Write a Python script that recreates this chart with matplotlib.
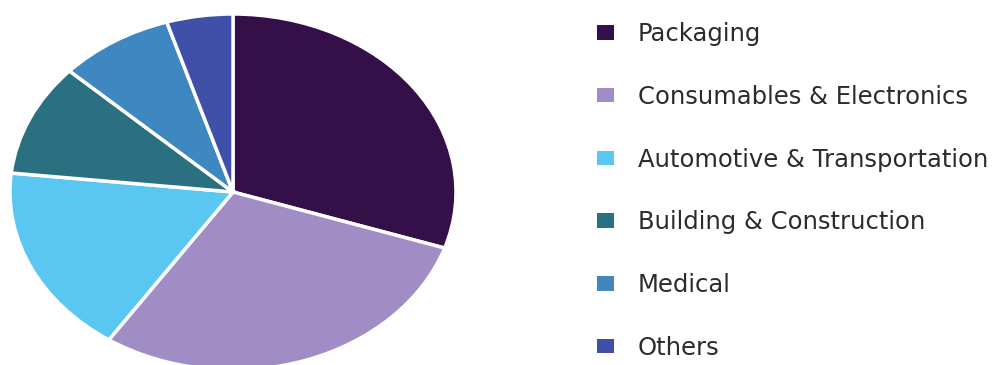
import matplotlib.pyplot as plt

# market share by end-use segment
segments = ['Packaging', 'Consumables & Electronics', 'Automotive & Transportation',
            'Building & Construction', 'Medical', 'Others']
shares = [30.1, 29.3, 17.3, 10.2, 8.3, 4.8]
colors = ['#350f48', '#a18dc6', '#5ac7f2', '#2a7080', '#3e87c0', '#4050a8']

fig = plt.figure(figsize=(9.97, 3.65), dpi=100)

# pie axes stretched wider than tall, so the pie comes out oval
W, H = 997, 365
cx, cy, rx, ry = 233, 192, 223, 178
ax = fig.add_axes([(cx - rx) / W, (H - cy - ry) / H, 2 * rx / W, 2 * ry / H])
wedges, _ = ax.pie(shares, colors=colors, startangle=90, counterclock=False,
                   radius=1, wedgeprops=dict(edgecolor='white', linewidth=2.5))
ax.set_aspect('auto')
ax.set_xlim(-1, 1)
ax.set_ylim(-1, 1)
ax.axis('off')

leg = fig.legend(wedges, segments, loc='upper left',
                 bbox_to_anchor=(597 / W, 1 - 22 / H),
                 frameon=False, fontsize=17.5, borderpad=0, borderaxespad=0,
                 handlelength=0.68, handleheight=0.54, handletextpad=1.0,
                 labelspacing=1.595, labelcolor='#2b2b2b')
for h in leg.legend_handles:
    h.set_edgecolor('none')

fig.savefig('out.png', dpi=100)
